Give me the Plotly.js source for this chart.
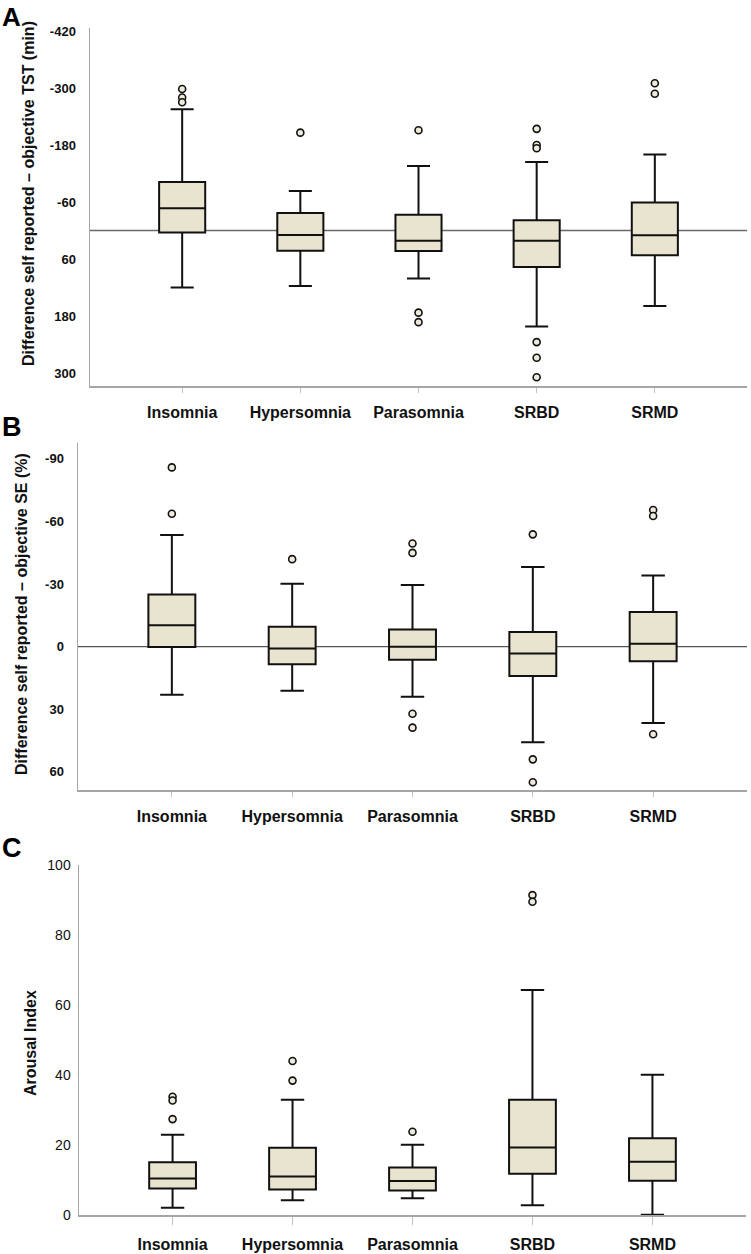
<!DOCTYPE html>
<html><head><meta charset="utf-8">
<script src="https://cdn.plot.ly/plotly-3.0.1.min.js"></script>
<style>html,body{margin:0;padding:0;background:#fff}</style>
</head><body><div id="chart" style="width:751px;height:1254px"></div>
<script>
const categories = ['Insomnia', 'Hypersomnia', 'Parasomnia', 'SRBD', 'SRMD'];

// Panel A: Difference self reported - objective TST (min)
const tstLowerFence = [-255, -83, -136, -144, -160];
const tstQ1 = [-102, -37, -33, -21.5, -59];
const tstMedian = [-47, 9.5, 21.5, 21.5, 10];
const tstQ3 = [4, 42.5, 43, 77, 52];
const tstUpperFence = [120, 117, 101, 202, 159];
const tstOutlierCat = ['Insomnia', 'Insomnia', 'Insomnia', 'Hypersomnia', 'Parasomnia', 'Parasomnia', 'Parasomnia',
  'SRBD', 'SRBD', 'SRBD', 'SRBD', 'SRBD', 'SRBD', 'SRMD', 'SRMD'];
const tstOutlierVal = [-298, -280, -270, -206, -211, 173, 193, -214, -180, -173, 235, 268, 309, -310, -288];
const tstTicks = [-420, -300, -180, -60, 60, 180, 300];

// Panel B: Difference self reported - objective SE (%)
const seLowerFence = [-53.5, -30.1, -29.5, -38.1, -34.1];
const seQ1 = [-25.0, -9.5, -8.2, -7.0, -16.5];
const seMedian = [-10.2, 0.9, 0.1, 3.3, -1.3];
const seQ3 = [0.2, 8.5, 6.3, 14.1, 7.1];
const seUpperFence = [23.1, 21.2, 24.1, 45.9, 36.7];
const seOutlierCat = ['Insomnia', 'Insomnia', 'Hypersomnia', 'Parasomnia', 'Parasomnia', 'Parasomnia', 'Parasomnia',
  'SRBD', 'SRBD', 'SRBD', 'SRMD', 'SRMD', 'SRMD'];
const seOutlierVal = [-85.9, -63.7, -41.9, -49.4, -44.9, 32.2, 38.9, -53.8, 54.1, 65.1, -65.5, -62.6, 42.1];
const seTicks = [-90, -60, -30, 0, 30, 60];

// Panel C: Arousal Index
const aiLowerFence = [2.1, 4.2, 4.8, 2.8, 0.1];
const aiQ1 = [7.6, 7.3, 7.0, 11.8, 9.8];
const aiMedian = [10.4, 11.0, 9.7, 19.3, 15.2];
const aiQ3 = [15.1, 19.2, 13.6, 32.9, 21.9];
const aiUpperFence = [22.9, 32.9, 20.1, 64.3, 40.1];
const aiOutlierCat = ['Insomnia', 'Insomnia', 'Insomnia', 'Hypersomnia', 'Hypersomnia', 'Parasomnia', 'SRBD', 'SRBD'];
const aiOutlierVal = [33.8, 32.7, 27.4, 44.0, 38.4, 23.8, 91.4, 89.5];
const aiTicks = [0, 20, 40, 60, 80, 100];

const W = 751, H = 1254;
const FONT = 'Liberation Sans, Arial, sans-serif';
const boxFill = '#e9e4d0';
const ink = '#111111';

function boxTrace(q1, med, q3, lf, uf, n) {
  return {
    type: 'box', x: categories, q1: q1, median: med, q3: q3, lowerfence: lf, upperfence: uf,
    xaxis: 'x' + n, yaxis: 'y' + n, fillcolor: boxFill, line: {color: ink, width: 2},
    width: 0.39, whiskerwidth: 0.5, boxpoints: false, hoverinfo: 'skip', showlegend: false
  };
}
function outlierTrace(cat, val, n) {
  return {
    type: 'scatter', mode: 'markers', x: cat, y: val, xaxis: 'x' + n, yaxis: 'y' + n,
    marker: {symbol: 'circle', size: 7, color: '#efebdb', line: {color: ink, width: 1.6}},
    hoverinfo: 'skip', showlegend: false
  };
}

const data = [
  boxTrace(tstQ1, tstMedian, tstQ3, tstLowerFence, tstUpperFence, ''),
  outlierTrace(tstOutlierCat, tstOutlierVal, ''),
  boxTrace(seQ1, seMedian, seQ3, seLowerFence, seUpperFence, '2'),
  outlierTrace(seOutlierCat, seOutlierVal, '2'),
  boxTrace(aiQ1, aiMedian, aiQ3, aiLowerFence, aiUpperFence, '3'),
  outlierTrace(aiOutlierCat, aiOutlierVal, '3')
];

function px(x) { return x / W; }
function py(y) { return 1 - y / H; }

function xAxis(x0, x1, anchor, standoff, tlen) {
  return {
    domain: [px(x0), px(x1)], anchor: anchor, type: 'category', range: [-0.78, 4.78],
    showline: true, linecolor: '#a6a6a6', linewidth: 1.5, ticks: 'outside', ticklen: tlen,
    tickcolor: '#c0c0c0', tickwidth: 1, showgrid: false, zeroline: false,
    tickfont: {family: FONT, size: 16, color: ink, weight: 'bold'}, ticklabelstandoff: standoff,
    fixedrange: true
  };
}
function yAxis(y0, y1, anchor, range, ticks, bold, size, standoff) {
  return {
    domain: [py(y1), py(y0)], anchor: anchor, range: range, tickmode: 'array', tickvals: ticks,
    ticktext: ticks.map(String),
    showline: true, linecolor: '#a6a6a6', linewidth: 1.5, ticks: '', showgrid: false, zeroline: false,
    tickfont: {family: FONT, size: size, color: ink, weight: bold ? 'bold' : 'normal'},
    ticklabelstandoff: standoff, fixedrange: true
  };
}

const layout = {
  width: W, height: H, margin: {l: 0, r: 0, t: 0, b: 0},
  paper_bgcolor: '#ffffff', plot_bgcolor: '#ffffff', showlegend: false,
  font: {family: FONT, color: ink},
  xaxis: xAxis(90, 747, 'y', 6, 5),
  yaxis: yAxis(28, 386, 'x', [327.4, -426.3], tstTicks, true, 13, 10),
  xaxis2: xAxis(78, 747, 'y2', 6, 5),
  yaxis2: yAxis(443, 790, 'x2', [68.8, -97.6], seTicks, true, 13, 10),
  xaxis3: xAxis(79, 746, 'y3', 6, 8),
  yaxis3: yAxis(865, 1215, 'x3', [0, 100], aiTicks, false, 14, 4),
  shapes: [
    {type: 'line', xref: 'x domain', yref: 'y', x0: 0, x1: 1, y0: 0, y1: 0, line: {color: '#6a6a6a', width: 1.5}, layer: 'below'},
    {type: 'line', xref: 'x2 domain', yref: 'y2', x0: 0, x1: 1, y0: 0, y1: 0, line: {color: '#555555', width: 1.2}, layer: 'below'}
  ],
  annotations: [
    {text: 'A', xref: 'paper', yref: 'paper', x: px(11.5), y: 1, xanchor: 'center', yanchor: 'top', showarrow: false, font: {family: FONT, size: 26, weight: 'bold', color: '#000'}},
    {text: 'B', xref: 'paper', yref: 'paper', x: px(11.5), y: py(427.5), xanchor: 'center', yanchor: 'middle', showarrow: false, font: {family: FONT, size: 27, weight: 'bold', color: '#000'}},
    {text: 'C', xref: 'paper', yref: 'paper', x: px(11.5), y: py(848), xanchor: 'center', yanchor: 'middle', showarrow: false, font: {family: FONT, size: 27, weight: 'bold', color: '#000'}},
    {text: 'Difference self reported – objective TST (min)', xref: 'paper', yref: 'paper', x: px(29), y: py(194), xanchor: 'center', yanchor: 'middle', textangle: -90, showarrow: false, font: {family: FONT, size: 16, weight: 'bold', color: ink}},
    {text: 'Difference self reported – objective SE (%)', xref: 'paper', yref: 'paper', x: px(22), y: py(614), xanchor: 'center', yanchor: 'middle', textangle: -90, showarrow: false, font: {family: FONT, size: 16, weight: 'bold', color: ink}},
    {text: 'Arousal Index', xref: 'paper', yref: 'paper', x: px(30), y: py(1043), xanchor: 'center', yanchor: 'middle', textangle: -90, showarrow: false, font: {family: FONT, size: 16, weight: 'bold', color: ink}}
  ]
};

Plotly.newPlot('chart', data, layout, {displayModeBar: false, staticPlot: true});
</script>
</body></html>
